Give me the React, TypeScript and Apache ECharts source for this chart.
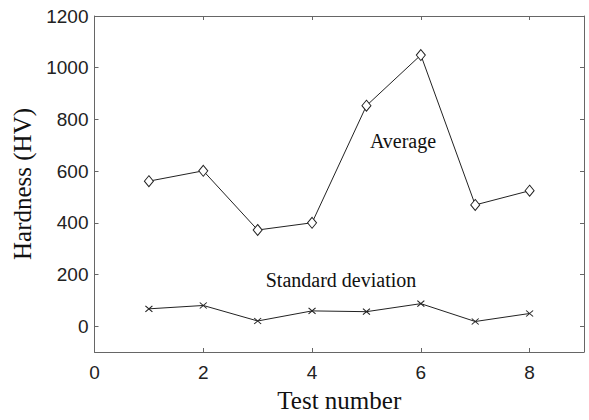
import React, { useEffect, useRef } from "react";
import * as echarts from "echarts";

const testNumbers = [1, 2, 3, 4, 5, 6, 7, 8];
const averageHV = [561, 601, 372, 400, 853, 1049, 469, 524];
const stdDevHV = [67, 80, 20, 59, 56, 87, 18, 49];
const xTicks = [0, 2, 4, 6, 8];
const yTicks = [0, 200, 400, 600, 800, 1000, 1200];

const SERIF = "'Liberation Serif', 'Times New Roman', serif";
const SANS = "'Liberation Sans', Arial, sans-serif";
const FRAME = "#666";

export default function App() {
  const ref = useRef<HTMLDivElement>(null);
  useEffect(() => {
    if (!ref.current) return;
    const chart = echarts.init(ref.current, undefined, { renderer: "svg" });
    const axisLine = { show: true, onZero: false, lineStyle: { color: FRAME, width: 1 } };
    const fmt = (v: number) => String(v);
    chart.setOption({
      animation: false,
      backgroundColor: "#fff",
      grid: { left: 94.5, right: 5, top: 16, bottom: 68, containLabel: false },
      xAxis: [
        {
          type: "value",
          position: "bottom",
          min: 0,
          max: 9,
          axisLine,
          axisTick: { show: true, inside: true, length: 4, customValues: xTicks, lineStyle: { color: FRAME } },
          axisLabel: { customValues: xTicks, formatter: fmt, fontFamily: SANS, fontSize: 19, color: "#222", margin: 11 },
          splitLine: { show: false },
          name: "Test number",
          nameLocation: "middle",
          nameGap: 36,
          nameTextStyle: { fontFamily: SERIF, fontSize: 25, color: "#111" },
        },
        {
          type: "value",
          position: "top",
          min: 0,
          max: 9,
          axisLine,
          axisTick: { show: true, inside: true, length: 4, customValues: xTicks, lineStyle: { color: FRAME } },
          axisLabel: { show: false },
          splitLine: { show: false },
        },
      ],
      yAxis: [
        {
          type: "value",
          position: "left",
          min: -100,
          max: 1200,
          axisLine,
          axisTick: { show: true, inside: true, length: 4, customValues: yTicks, lineStyle: { color: FRAME } },
          axisLabel: { customValues: yTicks, formatter: fmt, fontFamily: SANS, fontSize: 19, color: "#222", margin: 6 },
          splitLine: { show: false },
          name: "Hardness (HV)",
          nameLocation: "middle",
          nameGap: 57,
          nameTextStyle: { fontFamily: SERIF, fontSize: 25, color: "#111" },
        },
        {
          type: "value",
          position: "right",
          min: -100,
          max: 1200,
          axisLine,
          axisTick: { show: true, inside: true, length: 4, customValues: yTicks, lineStyle: { color: FRAME } },
          axisLabel: { show: false },
          splitLine: { show: false },
        },
      ],
      series: [
        {
          name: "Average",
          type: "line",
          data: testNumbers.map((x, i) => [x, averageHV[i]]),
          symbol: "diamond",
          symbolSize: [9, 11],
          showAllSymbol: true,
          lineStyle: { color: "#222", width: 1 },
          itemStyle: { color: "#fff", borderColor: "#222", borderWidth: 1 },
        },
        {
          name: "Standard deviation",
          type: "line",
          data: testNumbers.map((x, i) => [x, stdDevHV[i]]),
          symbol: "path://M0,0L10,10M10,0L0,10",
          symbolSize: [7, 6],
          showAllSymbol: true,
          lineStyle: { color: "#222", width: 1 },
          itemStyle: { color: "none", borderColor: "#222", borderWidth: 1 },
        },
      ],
      graphic: [
        {
          type: "text",
          x: 403,
          y: 141,
          style: {
            text: "Average",
            font: `20px ${SERIF}`,
            fill: "#111",
            align: "center",
            verticalAlign: "middle",
          },
        },
        {
          type: "text",
          x: 341,
          y: 280,
          style: {
            text: "Standard deviation",
            font: `20px ${SERIF}`,
            fill: "#111",
            align: "center",
            verticalAlign: "middle",
          },
        },
      ],
    });
    return () => chart.dispose();
  }, []);
  return <div ref={ref} style={{ width: 589, height: 420, position: "absolute", left: 0, top: 0 }} />;
}
